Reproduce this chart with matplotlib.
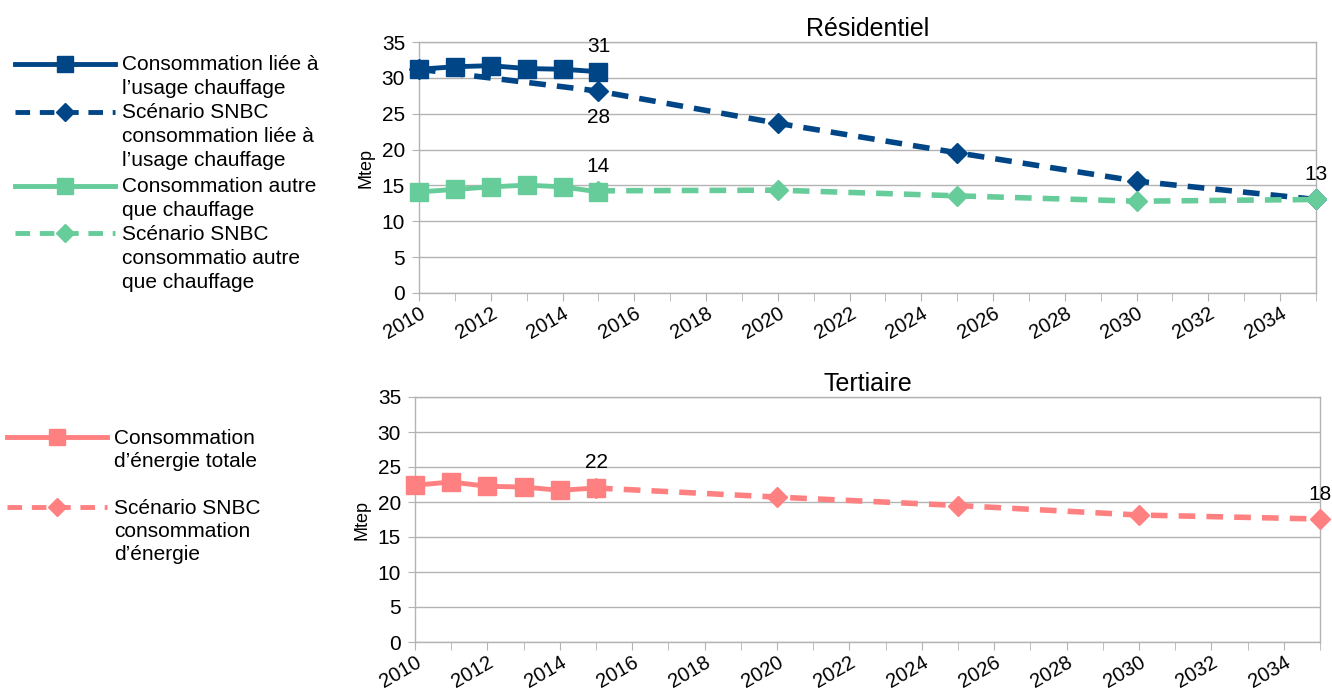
import matplotlib
matplotlib.use('Agg')
import matplotlib.pyplot as plt
from matplotlib.lines import Line2D
from matplotlib.ticker import MultipleLocator

plt.rcParams['font.family'] = ['Liberation Sans', 'DejaVu Sans']

# données
annees_hist = [2010, 2011, 2012, 2013, 2014, 2015]
annees_snbc = [2010, 2015, 2020, 2025, 2030, 2035]
annees_snbc_2015 = [2015, 2020, 2025, 2030, 2035]

res_chauffage = [31.2, 31.55, 31.7, 31.3, 31.2, 30.86]
res_chauffage_snbc = [31.2, 28.15, 23.66, 19.55, 15.6, 13.04]
res_autre = [14.1, 14.44, 14.8, 15.04, 14.8, 14.1]
res_autre_snbc = [14.25, 14.34, 13.55, 12.8, 13.04]

tert_total = [22.4, 22.86, 22.24, 22.14, 21.67, 22.0]
tert_snbc = [22.0, 20.7, 19.5, 18.14, 17.57]

leg_res = [
    ["Consommation liée à", "l\u2019usage chauffage"],
    ["Scénario SNBC", "consommation liée à", "l\u2019usage chauffage"],
    ["Consommation autre", "que chauffage"],
    ["Scénario SNBC", "consommatio autre", "que chauffage"],
]
leg_tert = [
    ["Consommation", "d\u2019énergie totale"],
    ["Scénario SNBC", "consommation", "d\u2019énergie"],
]

BLEU = '#004586'
VERT = '#66cc99'
ROSE = '#ff8080'
GRIS = '#b3b3b3'

W, H = 1332, 693
fig = plt.figure(figsize=(W / 100, H / 100), dpi=100)


def fx(px):
    return px / W


def fy(py):
    return 1 - py / H


def style_axe(ax, titre):
    ax.set_xlim(2010, 2035)
    ax.set_ylim(0, 35)
    ax.yaxis.set_major_locator(MultipleLocator(5))
    ax.xaxis.set_major_locator(MultipleLocator(2))
    ax.xaxis.set_minor_locator(MultipleLocator(1))
    ax.grid(axis='y', color=GRIS, lw=1)
    ax.set_axisbelow(True)
    for s in ax.spines.values():
        s.set_color(GRIS)
        s.set_linewidth(1)
    ax.tick_params(axis='x', which='both', length=6, color=GRIS, labelsize=14.5, pad=2)
    ax.tick_params(axis='y', length=5, color=GRIS, labelsize=15, pad=5)
    for lab in ax.get_xticklabels():
        lab.set_rotation(30)
        lab.set_ha('right')
        lab.set_rotation_mode('anchor')
    ax.set_ylabel('Mtep', fontsize=13, labelpad=5)
    ax.set_title(titre, fontsize=18, pad=4)


def etiquette(ax, x, y, txt, dy):
    ax.annotate(txt, xy=(x, y), xytext=(0, dy), textcoords='offset points',
                ha='center', va='center', fontsize=15, annotation_clip=False)


# Résidentiel
ax1 = fig.add_axes([fx(419), fy(293), fx(1316 - 419), fy(42) - fy(293)])
ax1.plot(annees_snbc, res_chauffage_snbc, color=BLEU, lw=4, ls=(0, (3, 2)),
         marker='D', ms=10, clip_on=False, zorder=3)
ax1.plot(annees_hist, res_chauffage, color=BLEU, lw=3.5, marker='s', ms=13,
         clip_on=False, zorder=4)
ax1.plot(annees_snbc_2015, res_autre_snbc, color=VERT, lw=4, ls=(0, (3, 2)),
         marker='D', ms=10, clip_on=False, zorder=3)
ax1.plot(annees_hist, res_autre, color=VERT, lw=3.5, marker='s', ms=13,
         clip_on=False, zorder=4)
style_axe(ax1, 'Résidentiel')
etiquette(ax1, annees_hist[-1], res_chauffage[-1], '31', 18)
etiquette(ax1, annees_snbc[1], res_chauffage_snbc[1], '28', -19)
etiquette(ax1, annees_hist[-1], res_autre[-1], '14', 18)
etiquette(ax1, annees_snbc[-1], res_chauffage_snbc[-1], '13', 18)

# Tertiaire
ax2 = fig.add_axes([fx(415), fy(642), fx(1320 - 415), fy(397) - fy(642)])
ax2.plot(annees_snbc_2015, tert_snbc, color=ROSE, lw=4, ls=(0, (3, 2)),
         marker='D', ms=10, clip_on=False, zorder=3)
ax2.plot(annees_hist, tert_total, color=ROSE, lw=3.5, marker='s', ms=13,
         clip_on=False, zorder=4)
style_axe(ax2, 'Tertiaire')
etiquette(ax2, annees_hist[-1], tert_total[-1], '22', 18)
etiquette(ax2, annees_snbc[-1], tert_snbc[-1], '18', 18)


# légendes dessinées à la main (texte aligné sur la première ligne)
def legende(entrees, couleurs, styles, y0s, x_l, x_r, x_t, pas=24):
    for lignes, c, (ls, mk, ms), y0 in zip(entrees, couleurs, styles, y0s):
        fig.add_artist(Line2D([fx(x_l), fx(x_r)], [fy(y0), fy(y0)], color=c,
                              lw=3.5, ls=ls, transform=fig.transFigure))
        fig.add_artist(Line2D([fx((x_l + x_r) / 2)], [fy(y0)], color=c, marker=mk,
                              ms=ms, ls='none', transform=fig.transFigure))
        for i, t in enumerate(lignes):
            fig.text(fx(x_t), fy(y0 + 1 + i * pas), t, fontsize=15, va='center', ha='left')


styles = [('-', 's', 11), ((0, (3, 2)), 'D', 9)]
legende(leg_res, [BLEU, BLEU, VERT, VERT], styles * 2, [64, 112, 186, 233], 15, 115, 122)
legende(leg_tert, [ROSE, ROSE], styles, [437, 507], 7, 107, 114, pas=23.5)

fig.savefig('out.png', dpi=100)
